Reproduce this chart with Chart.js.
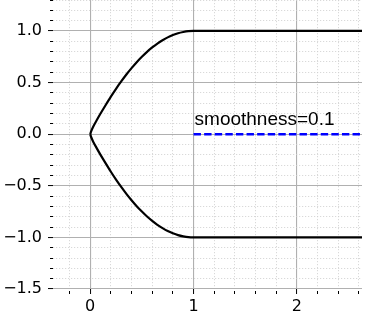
<!DOCTYPE html>
<html>
<head>
<meta charset="utf-8">
<script src="https://cdn.jsdelivr.net/npm/chart.js@4/dist/chart.umd.min.js"></script>
<style>
  html, body { margin: 0; padding: 0; background: #ffffff; }
  #wrap { width: 377px; height: 317px; }
</style>
</head>
<body>
<div id="wrap"><canvas id="c" width="377" height="317"></canvas></div>
<script>
// ---- data ----
const UPPER_X = [0, 0.01, 0.03, 0.06, 0.10, 0.15, 0.20, 0.25, 0.30, 0.35, 0.40, 0.45, 0.50, 0.55, 0.60, 0.65, 0.70, 0.75, 0.80, 0.85, 0.90, 0.95, 1.0, 2.63];
const UPPER_Y = [0, 0.03, 0.075, 0.13, 0.20, 0.283, 0.364, 0.44, 0.511, 0.578, 0.64, 0.698, 0.75, 0.798, 0.84, 0.878, 0.91, 0.938, 0.96, 0.978, 0.99, 0.998, 1.0, 1.0];
const LOWER_X = [0, 0.01, 0.03, 0.06, 0.10, 0.15, 0.20, 0.25, 0.30, 0.35, 0.40, 0.45, 0.50, 0.55, 0.60, 0.65, 0.70, 0.75, 0.80, 0.85, 0.90, 0.95, 1.0, 2.63];
const LOWER_Y = [0, -0.03, -0.075, -0.13, -0.20, -0.283, -0.364, -0.44, -0.511, -0.578, -0.64, -0.698, -0.75, -0.798, -0.84, -0.878, -0.91, -0.938, -0.96, -0.978, -0.99, -0.998, -1.0, -1.0];
const DASH_X = [1.0, 2.63];
const DASH_Y = [0.0, 0.0];
const ANNOTATION = "smoothness=0.1";
const ANNOT_AT = [1.0, 0.0];

// ---- ticks ----
const X_MAJOR = [0, 1, 2];
const X_MINOR = [-0.2, 0.2, 0.4, 0.6, 0.8, 1.2, 1.4, 1.6, 1.8, 2.2, 2.4, 2.6];
const Y_MAJOR = [-1.5, -1.0, -0.5, 0.0, 0.5, 1.0];
const Y_MINOR = [-1.4, -1.3, -1.2, -1.1, -0.9, -0.8, -0.7, -0.6, -0.4, -0.3, -0.2, -0.1,
                 0.1, 0.2, 0.3, 0.4, 0.6, 0.7, 0.8, 0.9, 1.1, 1.2, 1.3];
const X_RANGE = [-0.36, 2.63];
const Y_RANGE = [-1.5, 1.3];

function pts(xs, ys) { return xs.map((x, i) => ({ x: x, y: ys[i] })); }
function tickList(major, minor) {
  const all = major.map(v => ({ value: v, major: true })).concat(minor.map(v => ({ value: v, major: false })));
  all.sort((a, b) => a.value - b.value);
  return all;
}
function isMajor(ctx) { return !!(ctx.tick && ctx.tick.major); }

const gridCommon = {
  drawOnChartArea: true,
  drawTicks: true,
  tickLength: 5,
  color: ctx => isMajor(ctx) ? '#b0b0b0' : '#cfcfcf',
  lineWidth: ctx => isMajor(ctx) ? 1.1 : 0.8,
  borderDash: ctx => isMajor(ctx) ? [] : [1.2, 1.8],
  tickColor: '#000000',
  tickWidth: 1,
  tickBorderDash: ctx => isMajor(ctx) ? [] : [0, 2, 3, 100]
};
const borderCommon = {
  display: false,
  dash: ctx => isMajor(ctx) ? [] : [1.2, 1.8]
};

const annotPlugin = {
  id: 'annot',
  afterDatasetsDraw(chart) {
    const ctx = chart.ctx;
    const xs = chart.scales.x, ys = chart.scales.y;
    const px = xs.getPixelForValue(ANNOT_AT[0]) + 1;
    const py = ys.getPixelForValue(ANNOT_AT[1]) - 9;
    ctx.save();
    ctx.fillStyle = '#000000';
    ctx.font = '19px "Liberation Sans", Arial, sans-serif';
    ctx.textBaseline = 'alphabetic';
    ctx.textAlign = 'left';
    ctx.fillText(ANNOTATION, px, py, 167);
    ctx.restore();
  }
};

new Chart(document.getElementById('c'), {
  type: 'line',
  data: {
    datasets: [
      { data: pts(UPPER_X, UPPER_Y), borderColor: '#000000', borderWidth: 2.2, pointRadius: 0,
        tension: 0.25, fill: false },
      { data: pts(LOWER_X, LOWER_Y), borderColor: '#000000', borderWidth: 2.2, pointRadius: 0,
        tension: 0.25, fill: false },
      { data: pts(DASH_X, DASH_Y), borderColor: '#0000ff', borderWidth: 2.5, pointRadius: 0,
        borderDash: [7.4, 3.2], tension: 0, fill: false }
    ]
  },
  options: {
    responsive: false,
    animation: false,
    devicePixelRatio: 1,
    layout: { padding: { top: 0, right: 15, bottom: 0, left: 0 } },
    plugins: { legend: { display: false }, tooltip: { enabled: false } },
    scales: {
      x: {
        type: 'linear',
        min: X_RANGE[0], max: X_RANGE[1],
        afterBuildTicks: s => { s.ticks = tickList(X_MAJOR, X_MINOR); },
        afterFit: s => { s.height = 28; s.paddingLeft = 0; s.paddingRight = 0; },
        grid: gridCommon,
        border: borderCommon,
        ticks: {
          autoSkip: false, maxRotation: 0, padding: 3,
          color: '#000000',
          font: { family: '"DejaVu Sans", sans-serif', size: 16 },
          callback: function (v, i, t) { return t[i].major ? String(Math.round(v)) : ''; }
        }
      },
      y: {
        type: 'linear',
        min: Y_RANGE[0], max: Y_RANGE[1],
        afterBuildTicks: s => { s.ticks = tickList(Y_MAJOR, Y_MINOR); },
        afterFit: s => { s.width = 53; s.paddingTop = 0; s.paddingBottom = 0; },
        grid: gridCommon,
        border: borderCommon,
        ticks: {
          autoSkip: false, padding: 6,
          color: '#000000',
          font: { family: '"DejaVu Sans", sans-serif', size: 16 },
          callback: function (v, i, t) {
            if (!t[i].major) return '';
            const s = Math.abs(v).toFixed(1);
            return v < 0 ? '\u2212' + s : s;
          }
        }
      }
    }
  },
  plugins: [annotPlugin]
});
</script>
</body>
</html>
